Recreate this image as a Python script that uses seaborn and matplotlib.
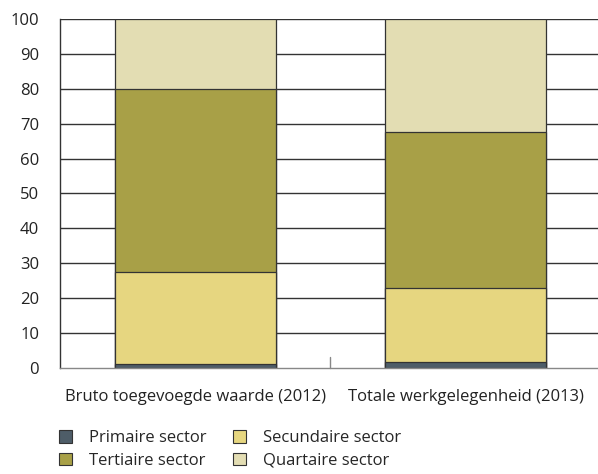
import numpy as np
import pandas as pd
import matplotlib
matplotlib.use("Agg")
import matplotlib.pyplot as plt
import seaborn as sns
from matplotlib.patches import Patch

categories = ["Bruto toegevoegde waarde (2012)", "Totale werkgelegenheid (2013)"]
sectors = ["Primaire sector", "Secundaire sector", "Tertiaire sector", "Quartaire sector"]
primaire = [1.0, 1.8]
secundaire = [26.5, 21.1]
tertiaire = [52.5, 44.8]
quartaire = [20.0, 32.3]
colors = ["#4e5d68", "#e6d680", "#a8a047", "#e3ddb3"]

sns.set_style("white")
plt.rcParams["font.family"] = ["Open Sans", "DejaVu Sans"]

df = pd.DataFrame({"cat": categories, "Primaire sector": primaire,
                   "Secundaire sector": secundaire, "Tertiaire sector": tertiaire,
                   "Quartaire sector": quartaire})
cum = df[sectors].cumsum(axis=1)

fig = plt.figure(figsize=(5.98, 4.74), dpi=100)
ax = fig.add_axes([0.1003, 0.224, 0.8997, 0.736])

# grid behind bars
for v in range(10, 101, 10):
    ax.axhline(v, color="#333333", lw=1.0, zorder=0)

# stacked: draw the tallest cumulative first
for s, c in reversed(list(zip(sectors, colors))):
    sns.barplot(x=df["cat"], y=cum[s], color=c, width=0.595, ax=ax,
                edgecolor="#333333", linewidth=0.9, saturation=1, zorder=2)

ax.set_xlim(-0.5, 1.49)
ax.set_ylim(0, 100)
ax.set_yticks(range(0, 101, 10))
ax.set_xticks([])
ax.set_xlabel("")
ax.set_ylabel("")
ax.tick_params(axis="y", length=0, labelsize=12, pad=15, colors="#222222")
for sp in ["top", "right"]:
    ax.spines[sp].set_visible(False)
ax.spines["left"].set_color("#333333")
ax.spines["left"].set_linewidth(1.0)
ax.spines["bottom"].set_color("#888888")
ax.spines["bottom"].set_linewidth(1.0)
ax.plot([0.5, 0.5], [0, 3], color="#888888", lw=1.0, clip_on=False, zorder=3)

for i, cat in enumerate(categories):
    ax.text(i, -8.3, cat, ha="center", va="center", fontsize=12, color="#222222")

handles = [Patch(facecolor=colors[k], edgecolor="#333333", linewidth=0.8, label=sectors[k])
           for k in [0, 2, 1, 3]]
fig.legend(handles=handles, ncol=2, loc="upper left", bbox_to_anchor=(0.098, 0.092),
           frameon=False, fontsize=12, handlelength=0.8, handleheight=0.75,
           handletextpad=1.0, columnspacing=1.6, labelspacing=0.38,
           borderaxespad=0, borderpad=0)

fig.savefig("out.png", dpi=100)
